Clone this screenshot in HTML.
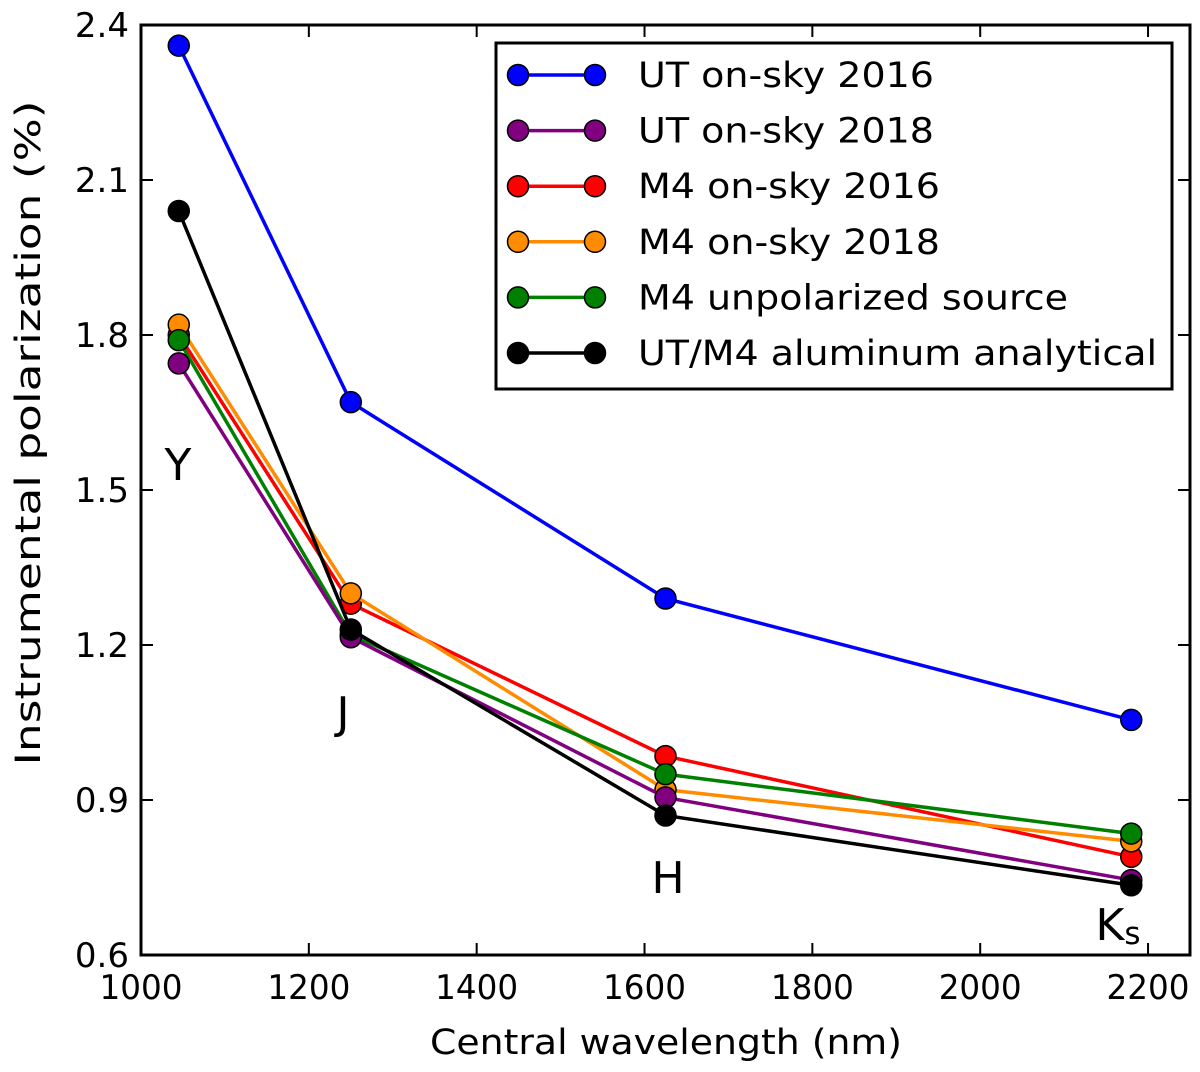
<!DOCTYPE html>
<html><head><meta charset="utf-8"><style>
body{margin:0;background:#fff}
svg text{font-family:"DejaVu Sans","Liberation Sans",sans-serif;fill:#000}
</style></head><body>
<svg id="chart" width="1200" height="1067">
<g id="plot"></g>
</svg>
<script>
const wavelengths=[1045,1250,1625,2180];
const seriesNames=["UT on-sky 2016","UT on-sky 2018","M4 on-sky 2016","M4 on-sky 2018","M4 unpolarized source","UT/M4 aluminum analytical"];
const seriesColors=["#0000ff","#800080","#ff0000","#ff8c00","#008000","#000000"];
const utSky2016=[2.36,1.67,1.29,1.055];
const utSky2018=[1.745,1.215,0.905,0.745];
const m4Sky2016=[1.80,1.28,0.985,0.79];
const m4Sky2018=[1.82,1.30,0.92,0.82];
const m4Unpol=[1.79,1.22,0.95,0.835];
const aluminum=[2.04,1.23,0.87,0.735];
const xTicks=[1000,1200,1400,1600,1800,2000,2200];
const yTicks=[0.6,0.9,1.2,1.5,1.8,2.1,2.4];
const bandLabels=["Y","J","H","K"];

const NS="http://www.w3.org/2000/svg";
const L=141,R=1190,T=25,B=955;
const xs=v=>L+(v-1000)/1250*(R-L);
const ys=v=>B-(v-0.6)/1.8*(B-T);
const g=document.getElementById('plot');
function mk(tag,attrs,parent){const e=document.createElementNS(NS,tag);for(const k in attrs)e.setAttribute(k,attrs[k]);(parent||g).appendChild(e);return e;}

xTicks.forEach(v=>{
  const x=xs(v);
  mk('line',{x1:x,x2:x,y1:B,y2:B-12,stroke:'#000','stroke-width':2});
  mk('line',{x1:x,x2:x,y1:T,y2:T+12,stroke:'#000','stroke-width':2});
  const t=mk('text',{x:x,y:B+44,'font-size':34,'text-anchor':'middle',textLength:83,lengthAdjust:'spacingAndGlyphs'});t.textContent=v;
  
  
});
yTicks.forEach(v=>{
  const y=ys(v);
  mk('line',{x1:L,x2:L+12,y1:y,y2:y,stroke:'#000','stroke-width':2});
  mk('line',{x1:R,x2:R-12,y1:y,y2:y,stroke:'#000','stroke-width':2});
  const t=mk('text',{x:L-12,y:y+12,'font-size':34,'text-anchor':'end'});t.textContent=v.toFixed(1);
  
  
});

const bandPos=[[178,480],[343,728],[668,893],[1118,940]];
bandLabels.forEach((b,i)=>{
  const t=mk('text',{x:bandPos[i][0],y:bandPos[i][1],'font-size':44,'text-anchor':'middle'});
  t.textContent=b;
  
  
  if(b==="K"){const s=mk('tspan',{'font-size':31,dy:4},t);s.textContent="s";}
});

const allSeries=[utSky2016,utSky2018,m4Sky2016,m4Sky2018,m4Unpol,aluminum];
const drawOrder=[0,2,3,4,1,5];
drawOrder.forEach(si=>{
  const vals=allSeries[si];
  const grp=mk('g',{});
  
  
  mk('polyline',{points:vals.map((v,i)=>xs(wavelengths[i])+','+ys(v)).join(' '),fill:'none',stroke:seriesColors[si],'stroke-width':3.5},grp);
  vals.forEach((v,i)=>{
    const c=mk('circle',{cx:xs(wavelengths[i]),cy:ys(v),r:10.5,fill:seriesColors[si],stroke:'#000','stroke-width':1.5},grp);
    
    
  });
});

const fr=mk('rect',{x:L,y:T,width:R-L,height:B-T,fill:'none',stroke:'#000','stroke-width':3});



const legendWidths=[296,296,302,302,430,519];
const lg=mk('g',{});


mk('rect',{x:496,y:43,width:676,height:346,fill:'#fff',stroke:'#000','stroke-width':3},lg);
seriesNames.forEach((n,i)=>{
  const y=75+i*55.6;
  const e=mk('g',{},lg);
  
  
  mk('line',{x1:518,x2:595,y1:y,y2:y,stroke:seriesColors[i],'stroke-width':3.5},e);
  mk('circle',{cx:518,cy:y,r:10.5,fill:seriesColors[i],stroke:'#000','stroke-width':1.5},e);
  mk('circle',{cx:595,cy:y,r:10.5,fill:seriesColors[i],stroke:'#000','stroke-width':1.5},e);
  const t=mk('text',{x:638,y:y+12,'font-size':35,textLength:legendWidths[i],lengthAdjust:'spacingAndGlyphs'},e);t.textContent=n;
});

const xt=mk('text',{x:666,y:1054,'font-size':35,'text-anchor':'middle',textLength:472,lengthAdjust:'spacingAndGlyphs'});xt.textContent="Central wavelength (nm)";


const yt=mk('text',{x:0,y:0,'font-size':35,'text-anchor':'middle',textLength:665,lengthAdjust:'spacingAndGlyphs',transform:'translate(40,433) rotate(-90)'});yt.textContent="Instrumental polarization (%)";


</script>
</body></html>
